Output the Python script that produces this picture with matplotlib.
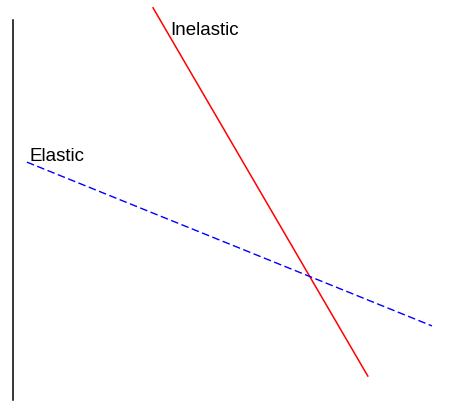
import matplotlib
matplotlib.use("Agg")
import matplotlib.pyplot as plt

# demand curves: (quantity, price) end points
inelastic_q = [3.22, 8.14]
inelastic_p = [10.32, 0.63]
elastic_q = [0.33, 9.61]
elastic_p = [6.26, 1.95]

labels = ["Inelastic", "Elastic"]
label_pos = [(3.62, 9.61), (0.40, 6.29)]

plt.rcParams['font.family'] = ['Liberation Sans', 'DejaVu Sans']

fig = plt.figure(figsize=(4.49, 4.01), dpi=100)
ax = fig.add_axes([12.5 / 449, 1 / 401, 436.5 / 449, 380 / 401])
ax.set_xlim(0, 10)
ax.set_ylim(0, 10)

ax.plot(inelastic_q, inelastic_p, color='#ff0000', lw=1.1, clip_on=False)
ax.plot(elastic_q, elastic_p, color='#0000ff', lw=1.0,
        linestyle=(0, (5.5, 2.5)), clip_on=False)

for txt, (x, y) in zip(labels, label_pos):
    ax.text(x, y, txt, fontsize=13.5, va='baseline', ha='left', color='black')

for side in ['top', 'right', 'bottom']:
    ax.spines[side].set_visible(False)
ax.spines['left'].set_linewidth(1.1)
ax.set_xticks([])
ax.set_yticks([])

fig.savefig("out.png", dpi=100)
